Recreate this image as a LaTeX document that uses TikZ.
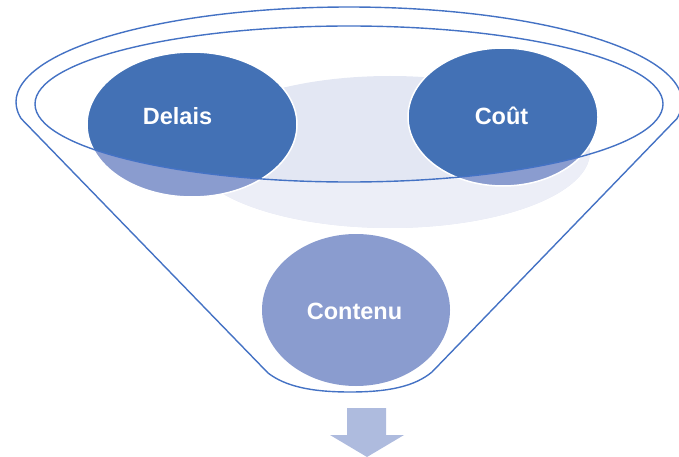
\documentclass[tikz,border=0pt]{standalone}
\usepackage{fontspec}
\setmainfont{Liberation Sans}
\usetikzlibrary{shapes.geometric}

\definecolor{funnelline}{HTML}{4472C4}
\definecolor{topblue}{HTML}{4371B5}
\definecolor{lowblue}{HTML}{8A9CCF}
\definecolor{shadein}{HTML}{E3E7F3}
\definecolor{shadeout}{HTML}{ECEEF7}
\definecolor{arrowblue}{HTML}{AEBBDE}

\tikzset{
  bubble/.style={ellipse, inner sep=0pt, fill=topblue, draw=white, line width=1.5pt},
  lowbubble/.style={fill=lowblue, draw=white, line width=1.5pt},
  outline/.style={draw=funnelline, line width=1.4pt, line join=round},
  label/.style={text=white, font=\fontsize{23.5}{28}\selectfont\bfseries,
                inner sep=0pt, text height=16.9pt, text depth=0pt}
}

\begin{document}
\begin{tikzpicture}[x=1pt, y=-1pt]
  \useasboundingbox (0,0) rectangle (679,457);

  % soft shadow disc behind the top bubbles
  \fill[shadein] (390,152) ellipse [x radius=200, y radius=76];

  % top bubbles
  \node[bubble, minimum width=210pt, minimum height=145pt] (delais) at (192,124.5) {};
  \node[bubble, minimum width=190pt, minimum height=138pt] (cout) at (503,117) {};

  % the parts below the funnel mouth are paler
  \begin{scope}[even odd rule]
    \clip (-10,-10) rectangle (690,470)
          (349,104) ellipse [x radius=314, y radius=78];
    \fill[shadeout] (390,152) ellipse [x radius=200, y radius=76];
    \path[lowbubble] (delais.center) ellipse [x radius=105, y radius=72.5];
    \path[lowbubble] (cout.center) ellipse [x radius=95, y radius=69];
  \end{scope}

  % funnel mouth
  \path[outline] (349,104) ellipse [x radius=314, y radius=78];

  % funnel body
  \path[outline] (432,372) -- (677,118.5)
    -- plot[domain=-10:190, samples=80, smooth] ({349+333*cos(\x)}, {102-95*sin(\x)})
    -- (268,373)
    .. controls (285,386) and (310,392) .. (350,392)
    .. controls (390,392) and (415,386) .. (432,372) -- cycle;

  % bottom bubble
  \node[ellipse, inner sep=0pt, fill=lowblue, minimum width=188pt, minimum height=152pt]
    (contenu) at (356,310) {};

  % output arrow
  \fill[arrowblue] (347,408) -- (386,408) -- (386,435) -- (404,435)
    -- (367,457) -- (330,435) -- (347,435) -- cycle;

  % texts
  \node[label] (delaisText) at (177.5,116.5) {Delais};
  \node[label] (coutText) at (501.5,116.5) {Coût};
  \node[label] (contenuText) at (354.5,311) {Contenu};
\end{tikzpicture}
\end{document}
